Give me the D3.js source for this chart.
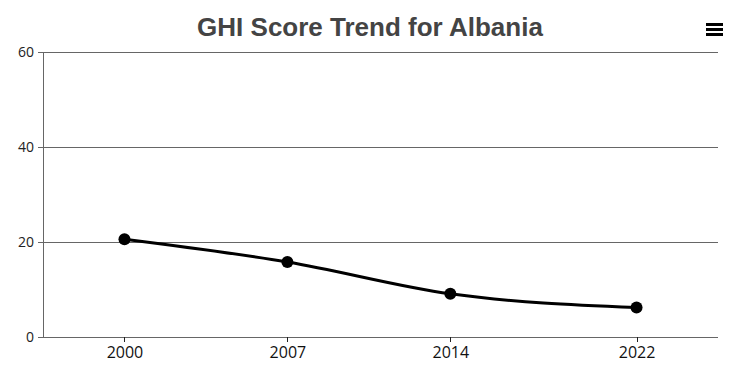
<!DOCTYPE html>
<html>
<head>
<meta charset="utf-8">
<script src="https://cdn.jsdelivr.net/npm/d3@7"></script>
<style>
  body { margin: 0; background: #fff; }
  svg { display: block; font-family: "Open Sans", sans-serif; }
</style>
</head>
<body>
<div id="chart"></div>
<script>
const years = [2000, 2007, 2014, 2022];
const scores = [20.6, 15.8, 9.1, 6.2];
const yTicks = [0, 20, 40, 60];

const W = 737, H = 389;
const margin = {top: 52, right: 19, bottom: 52, left: 43};
const width = W - margin.left - margin.right,
      height = H - margin.top - margin.bottom;

const svg = d3.select("#chart").append("svg")
    .attr("width", W)
    .attr("height", H);

svg.append("text")
    .attr("x", 370).attr("y", 36)
    .attr("text-anchor", "middle")
    .style("font-family", "'Liberation Sans', Arial, sans-serif")
    .style("font-weight", "bold")
    .style("font-size", "26px")
    .style("fill", "#444")
    .text("GHI Score Trend for Albania");

// menu icon
const menu = svg.append("g").attr("transform", "translate(706,23)");
[0, 5, 10].forEach(function(dy) {
    menu.append("rect").attr("x", 0).attr("y", dy).attr("width", 17).attr("height", 3).attr("fill", "#000");
});

const x = d3.scaleLinear().domain([1996.5, 2025.5]).range([0, width]);
const y = d3.scaleLinear().domain([0, 60]).range([height, 0]);

const g = svg.append("g").attr("transform", "translate(" + margin.left + "," + margin.top + ")");

// gridlines
g.append("g")
    .selectAll("line")
    .data(yTicks)
    .enter().append("line")
    .attr("x1", 0).attr("x2", width)
    .attr("y1", d => y(d)).attr("y2", d => y(d))
    .attr("stroke", "#666").attr("stroke-width", 1)
    .attr("shape-rendering", "crispEdges");

const yAxis = g.append("g")
    .call(d3.axisLeft(y).tickValues(yTicks).tickSize(5).tickPadding(4));
yAxis.select(".domain").attr("stroke", "#666").attr("shape-rendering", "crispEdges");
yAxis.selectAll(".tick line").attr("stroke", "#666").attr("shape-rendering", "crispEdges");
yAxis.selectAll("text").attr("font-family", "'Open Sans', sans-serif").style("font-size", "14px").style("fill", "#222");

const xAxis = g.append("g")
    .attr("transform", "translate(0," + height + ")")
    .call(d3.axisBottom(x).tickValues(years).tickFormat(d3.format("d")).tickSize(5).tickPadding(5).tickSizeOuter(0));
xAxis.select(".domain").remove();
xAxis.selectAll(".tick line").attr("stroke", "#222").attr("shape-rendering", "crispEdges");
xAxis.selectAll("text").attr("font-family", "'Open Sans', sans-serif").style("font-size", "16px").style("fill", "#111");

const data = years.map((yr, i) => ({year: yr, value: scores[i]}));

g.append("path")
    .datum(data)
    .attr("fill", "none")
    .attr("stroke", "#000")
    .attr("stroke-width", 3)
    .attr("d", d3.line().x(d => x(d.year)).y(d => y(d.value)).curve(d3.curveMonotoneX));

g.selectAll(".dot")
    .data(data)
    .enter().append("circle")
    .attr("class", "dot")
    .attr("cx", d => x(d.year))
    .attr("cy", d => y(d.value))
    .attr("r", 6)
    .attr("fill", "#000");
</script>
</body>
</html>
